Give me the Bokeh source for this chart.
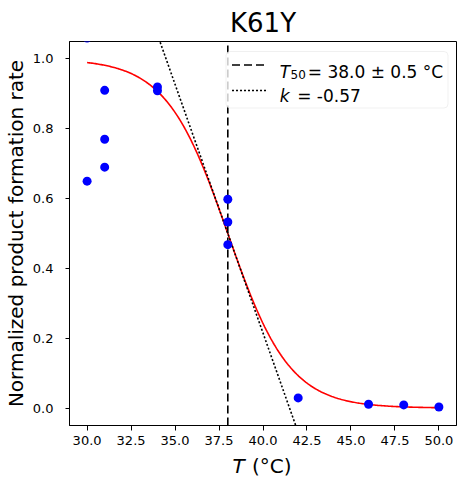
import numpy as np
from bokeh.plotting import figure
from bokeh.layouts import column
from bokeh.models import Range1d, FixedTicker, PrintfTickFormatter, BoxAnnotation, Label, Arrow
from bokeh.embed import file_html
from bokeh.resources import INLINE

# ---- data ----
title_text = "K61Y"
y_label_text = "Normalized product formation rate"
x_label_var = "T"
x_label_unit = "(°C)"
temperature = [30, 30, 31, 31, 31, 34, 34, 38, 38, 38, 42, 46, 48, 50]
rate = [1.06, 0.65, 0.91, 0.77, 0.69, 0.92, 0.909, 0.598, 0.533, 0.468, 0.029, 0.011, 0.009, 0.003]
T50 = 38.0
T50_err = 0.5
k = -0.57
x_ticks = [30.0, 32.5, 35.0, 37.5, 40.0, 42.5, 45.0, 47.5, 50.0]
y_ticks = [0.0, 0.2, 0.4, 0.6, 0.8, 1.0]
x_lim = (29.0, 51.0)
y_lim = (-0.05, 1.05)

FONT = "DejaVu Sans"
DASH = "8 4"
DOT = "2 2"
FRAME_W = 387

p = figure(frame_width=FRAME_W, frame_height=384,
           x_range=Range1d(*x_lim), y_range=Range1d(*y_lim),
           output_backend="svg", toolbar_location=None,
           min_border_left=0, min_border_right=1,
           min_border_top=0, min_border_bottom=0,
           background_fill_color="white", border_fill_color="white")
p.margin = (2, 0, 0, 0)
p.grid.visible = False
p.outline_line_color = "black"
p.outline_line_width = 1
p.outline_line_alpha = 1

# title
p.title.text = title_text
p.title.align = "center"
p.title.text_font = FONT
p.title.text_font_size = "26px"
p.title.text_font_style = "normal"
p.title.text_color = "black"
p.title.standoff = 7

# axes
for ax in (p.xaxis[0], p.yaxis[0]):
    ax.major_label_text_font = FONT
    ax.major_label_text_font_size = "13px"
    ax.major_label_text_color = "black"
    ax.axis_line_color = "black"
    ax.major_tick_line_color = "black"
    ax.minor_tick_line_color = None
    ax.major_tick_in = 0
p.xaxis[0].major_tick_out = 5
p.xaxis[0].major_label_standoff = 5
p.yaxis[0].major_tick_out = 4
p.yaxis[0].major_label_standoff = 12
p.xaxis[0].ticker = FixedTicker(ticks=x_ticks)
p.xaxis[0].formatter = PrintfTickFormatter(format="%.1f")
p.yaxis[0].ticker = FixedTicker(ticks=y_ticks)
p.yaxis[0].formatter = PrintfTickFormatter(format="%.1f")
p.yaxis[0].axis_label = y_label_text
p.yaxis[0].axis_label_text_font = FONT
p.yaxis[0].axis_label_text_font_size = "20px"
p.yaxis[0].axis_label_text_font_style = "normal"
p.yaxis[0].axis_label_text_color = "black"
p.yaxis[0].axis_label_standoff = 2

# fitted curve and helpers
fit_x = np.linspace(min(temperature), max(temperature), 300)
fit_y = 1.0 / (1.0 + np.exp(-k * (fit_x - T50)))
tan_x = np.array(x_lim)
tan_y = 0.5 + (k / 4.0) * (tan_x - T50)

p.line(fit_x, fit_y, line_color="red", line_width=1.6)
p.line([T50, T50], list(y_lim), line_color="black", line_width=1.6, line_dash=DASH)
p.line(tan_x, tan_y, line_color="black", line_width=1.6, line_dash=DOT)
p.scatter(temperature, rate, size=9, fill_color="blue", line_color="blue", line_width=0)

# custom legend (frame-relative screen units, y from bottom)
p.add_layout(BoxAnnotation(left=156.5, right=378.5, bottom=317.5, top=374,
                           left_units="screen", right_units="screen",
                           bottom_units="screen", top_units="screen",
                           fill_color="white", fill_alpha=0.8,
                           line_color="#cccccc", line_width=1, border_radius=4,
                           level="overlay"))
p.add_layout(Arrow(x_start=162.5, y_start=360.5, x_end=196.5, y_end=360.5,
                   start_units="screen", end_units="screen", start=None, end=None,
                   line_color="black", line_width=1.6, line_dash=DASH, level="overlay"))
p.add_layout(Arrow(x_start=162.5, y_start=335, x_end=196.5, y_end=335,
                   start_units="screen", end_units="screen", start=None, end=None,
                   line_color="black", line_width=1.6, line_dash=DOT, level="overlay"))

def lab(fig, text, x, y, size, style="normal", units="screen"):
    fig.add_layout(Label(x=x, y=y, x_units=units, y_units=units, text=text,
                         text_font=FONT, text_font_size=size, text_font_style=style,
                         text_color="black", text_align="left", text_baseline="alphabetic",
                         level="overlay"))

lab(p, "T", 210.3, 353.7, "17px", "italic")
lab(p, "50", 221.0, 351.0, "12px")
lab(p, f"= {T50:.1f} ± {T50_err:.1f} °C", 238.3, 353.7, "17px")
lab(p, "k", 210.3, 329.5, "17px", "italic")
lab(p, f"= {k:.2f}", 227.7, 329.5, "17px")

# x axis label strip (its frame lines up with the main frame): italic T + (°C)
p2 = figure(frame_width=FRAME_W, frame_height=30, x_range=Range1d(0, FRAME_W), y_range=Range1d(0, 30),
            x_axis_type=None, y_axis_type=None, toolbar_location=None, output_backend="svg",
            min_border=0, background_fill_color="white", border_fill_color="white")
p2.grid.visible = False
p2.outline_line_color = None
p2.title.visible = False
lab(p2, x_label_var, 163.0, 12.0, "20px", "italic", units="data")
lab(p2, x_label_unit, 182.4, 12.0, "20px", units="data")

open("out.html", "w").write(file_html(column(p, p2, spacing=0), INLINE))
